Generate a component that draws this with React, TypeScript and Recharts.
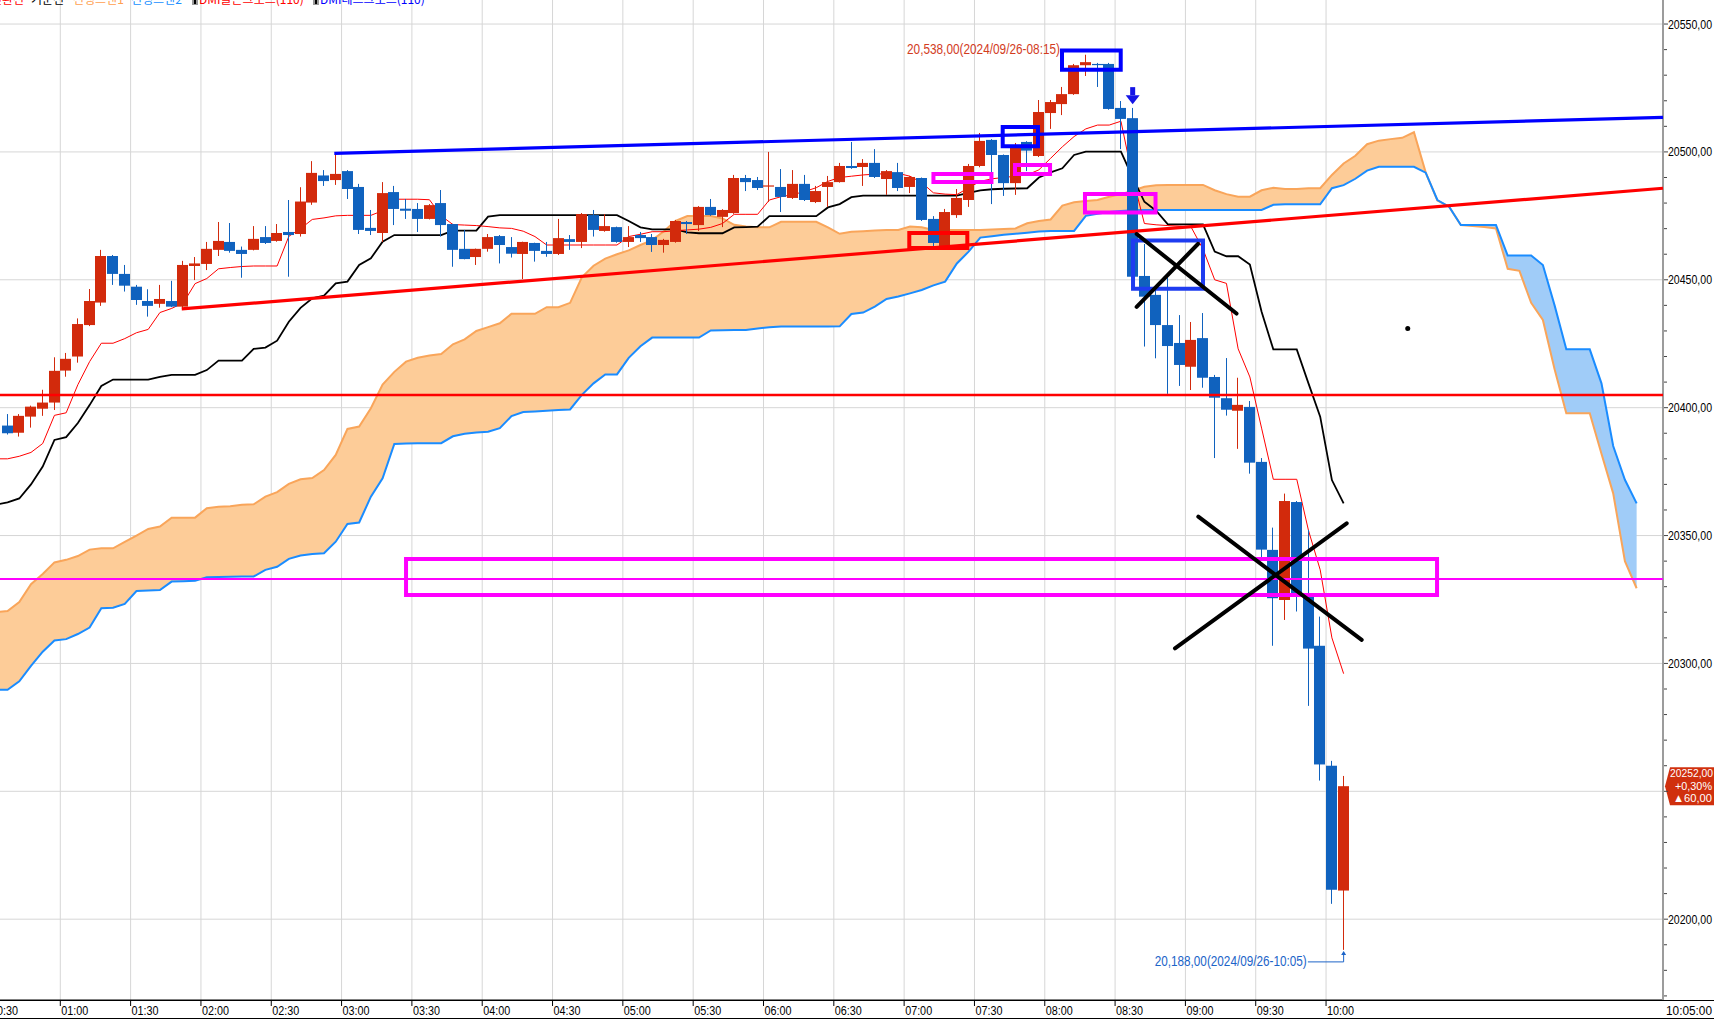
import React from 'react';
import {
  ComposedChart, Bar, Line, Area, XAxis, YAxis, CartesianGrid,
  ReferenceLine, ReferenceArea, ReferenceDot,
} from 'recharts';

const WIDTH = 1714;
const HEIGHT = 1020;
const NUM_FONT = "'Liberation Sans', Arial, sans-serif";
const KR_FONT = "'Noto Sans CJK KR', 'Noto Sans', sans-serif";
const RED = '#d22a0c';
const BLUE = '#1062be';

// time "HH:MM" -> 5-minute bar index
const toIdx = (t: string) => { const [h, m] = t.split(':').map(Number); return (h * 60 + m) / 5; };

// ---------------- data ----------------
const candleStart = '00:35';
const opens = [
  20393, 20390.2, 20396.5, 20399.6, 20402, 20414.5, 20420, 20432.3, 20441.1, 20459.3,
  20452.3, 20447.3, 20441.7, 20440.6, 20441.7, 20439.5, 20455.4, 20456.2, 20461.7, 20464.8,
  20461.7, 20461.7, 20466.7, 20465.2, 20468.7, 20467.9, 20480.2, 20490.8, 20489, 20492.5,
  20486.3, 20470.3, 20468.3, 20484.3, 20477.8, 20477.7, 20473.8, 20480, 20471.8, 20462.1,
  20458.9, 20462.1, 20467.1, 20462.8, 20460.1, 20464.4, 20461.3, 20460.1, 20465.9, 20464.8,
  20475.3, 20469.1, 20470.6, 20464.8, 20467.5, 20466.7, 20463.6, 20464.8, 20472.6, 20471.4,
  20478.5, 20474.6, 20476.1, 20489.8, 20489, 20486.6, 20486.3, 20482, 20487.5, 20480.4,
  20486.3, 20488.2, 20494.5, 20494.1, 20495.7, 20489.4, 20492.1, 20486.3, 20489.8, 20473.8,
  20463.2, 20475.3, 20481.2, 20494.5, 20504.7, 20498.8, 20487.8, 20503.9, 20498.4, 20515.2,
  20518.7, 20522.6, 20533.9, 20534.4, 20534.4, 20517.2, 20513.2, 20451.5, 20444.1, 20432.3,
  20425.3, 20416, 20427.2, 20412, 20403.7, 20398.8, 20400.3, 20378.8, 20344.4, 20324.8,
  20363.1, 20326.1, 20306.9, 20260, 20211.2,
];
const highs = [
  20397.5, 20397.5, 20400.8, 20407, 20419.7, 20421.4, 20434.9, 20446.4, 20461.7, 20459.7,
  20455.8, 20448, 20446.3, 20448, 20449.6, 20457.4, 20458.9, 20464.8, 20472.6, 20472.2,
  20463, 20471, 20471, 20471.8, 20481.2, 20486.2, 20496.4, 20492.9, 20499.4, 20492.9,
  20487.5, 20477.3, 20488.2, 20486.7, 20481.6, 20480, 20479.6, 20485.1, 20471.9, 20469.5,
  20462.2, 20467.9, 20467.5, 20466.7, 20464.9, 20464.5, 20464.8, 20473.8, 20467.5, 20476.1,
  20477.3, 20475.7, 20470.8, 20471, 20468.7, 20467.9, 20466, 20473.4, 20473, 20478.8,
  20481.6, 20477.6, 20491, 20491, 20490.2, 20500, 20493.3, 20492.9, 20491, 20486.7,
  20490.6, 20495.7, 20503.9, 20497.2, 20501.1, 20492.9, 20495.7, 20490.6, 20490, 20474.9,
  20477.7, 20485.5, 20495.3, 20507.4, 20505, 20499, 20503.5, 20504.2, 20520.3, 20520.3,
  20525.4, 20534.4, 20538, 20534.8, 20534.8, 20519.9, 20517.2, 20464, 20446, 20451,
  20436.2, 20433.5, 20437, 20412.8, 20419.4, 20411.7, 20402.6, 20380.3, 20353.1, 20366.4,
  20363.5, 20352.2, 20318.3, 20261.9, 20256,
];
const lows = [
  20389.5, 20388.7, 20392.2, 20396.8, 20399.1, 20412.1, 20417.6, 20431.9, 20439.8, 20448,
  20445.4, 20440.2, 20435.6, 20439.1, 20439.3, 20438.6, 20449.9, 20453.8, 20459.3, 20460.6,
  20450.8, 20461.5, 20464, 20464.9, 20451.2, 20466.9, 20479.3, 20486.7, 20487.1, 20481.6,
  20467.9, 20467.5, 20464.8, 20471.4, 20473.8, 20468.7, 20473.6, 20466.9, 20455.1, 20458,
  20455.8, 20461, 20456.4, 20458.7, 20450.3, 20457.1, 20459, 20459.7, 20461.7, 20462.4,
  20466.9, 20468.8, 20464.5, 20462.8, 20464.8, 20460.9, 20460.6, 20464.5, 20467.9, 20469.1,
  20475, 20470.6, 20475.8, 20484.7, 20485.1, 20480.4, 20476.5, 20481.6, 20480.8, 20480,
  20478.5, 20488, 20493.4, 20486.7, 20489.8, 20483.2, 20484.7, 20483.9, 20473, 20463.2,
  20463, 20474.2, 20478.5, 20494, 20479.6, 20482.8, 20483.2, 20492.5, 20498, 20509,
  20514.4, 20522.3, 20529.7, 20525.4, 20516.5, 20501.1, 20450, 20423.9, 20419.3, 20405.4,
  20408.5, 20406.9, 20407.8, 20380.3, 20396.9, 20383.9, 20374.2, 20341, 20306.9, 20317,
  20320.3, 20283.4, 20254.2, 20206, 20188,
];
const closes = [
  20390, 20396.8, 20400.4, 20402, 20414.4, 20419.1, 20432.7, 20441.7, 20459.3, 20452.3,
  20447.7, 20442.1, 20439.8, 20442.5, 20439.5, 20455.8, 20456.4, 20462.1, 20465.2, 20461.3,
  20460.1, 20466, 20464.4, 20468.3, 20467.5, 20480.6, 20491.8, 20488.6, 20491.4, 20485.5,
  20469.5, 20469.1, 20483.9, 20477.7, 20477, 20473.8, 20479.2, 20471.4, 20461.7, 20458.1,
  20462.1, 20466.7, 20463.6, 20460.2, 20464.8, 20461.3, 20460.1, 20466.3, 20464.8, 20475.7,
  20469.5, 20471, 20464.8, 20466.7, 20466.3, 20463.6, 20465.6, 20473, 20471.8, 20478.5,
  20475.3, 20477.3, 20489.8, 20488.2, 20485.9, 20486.9, 20482.4, 20487.5, 20481.2, 20484.7,
  20488.2, 20494.5, 20493.7, 20495.7, 20490.2, 20492.5, 20485.9, 20490.2, 20473.4, 20464.4,
  20476.5, 20482, 20494.5, 20504.3, 20498.8, 20487.8, 20501.9, 20500.5, 20515.6, 20519.5,
  20522.6, 20533.9, 20535.1, 20534, 20516.8, 20512.9, 20451.2, 20443.4, 20432.3, 20424.1,
  20416.7, 20426.5, 20411.7, 20403.9, 20399.2, 20401.1, 20378.5, 20344.5, 20325.5, 20363.5,
  20326.1, 20305.8, 20260.5, 20211.5, 20252,
];

const lineStart = '00:30';
// 전환선
const tenkan = [
  20380, 20380, 20381, 20382.5, 20386, 20397, 20398, 20409, 20418, 20425.2,
  20425.2, 20427, 20429.3, 20430.6, 20437.2, 20438.8, 20441, 20448.5, 20450.5, 20454.3,
  20454.8, 20455.2, 20455.4, 20455.4, 20455.4, 20467, 20470, 20473.6, 20474.2, 20475,
  20475.2, 20475.2, 20475.2, 20477, 20481.5, 20481.5, 20481.5, 20481.3, 20475, 20471.6,
  20471.4, 20471.2, 20470.8, 20470.3, 20470.1, 20469, 20466.9, 20463.6, 20463.6, 20463.6,
  20463.6, 20463.6, 20463.6, 20463.6, 20466.9, 20467.8, 20468.8, 20468.8, 20469.2, 20469.5,
  20469.8, 20470.5, 20472, 20475.6, 20475.6, 20475.6, 20481.2, 20482.5, 20483.3, 20484.5,
  20486, 20488.5, 20490, 20490.5, 20491, 20491.3, 20491.5, 20491.6, 20490.5, 20488,
  20484, 20483.5, 20483.3, 20486, 20488.5, 20489.5, 20490, 20490.5, 20491, 20493,
  20497.5, 20502, 20506, 20509, 20510.5, 20510.5, 20512, 20490, 20472, 20471.5,
  20471.2, 20471, 20470.5, 20462, 20450, 20448.6, 20423, 20412, 20392, 20372,
  20372, 20372, 20352, 20336.6, 20310, 20296,
];
// 기준선
const kijun = [
  20362, 20363, 20364.5, 20370, 20377, 20387.4, 20388.5, 20394, 20401, 20408.5,
  20411, 20411, 20411, 20411, 20412, 20412.8, 20412.8, 20412.8, 20414.7, 20418.4,
  20418.4, 20418.4, 20423, 20423.5, 20426.2, 20433.6, 20439, 20442.8, 20443.8, 20448.6,
  20449.3, 20455.8, 20458.4, 20464.9, 20467.5, 20467.5, 20467.5, 20467.5, 20467.5, 20469.2,
  20469.2, 20469.2, 20474.7, 20475.3, 20475.3, 20475.3, 20475.3, 20475.3, 20475.3, 20475.3,
  20475.3, 20475.3, 20475.3, 20475.3, 20473, 20470.5, 20469.7, 20469.7, 20469.7, 20468.5,
  20468.2, 20468.2, 20468.2, 20470.5, 20470.6, 20470.8, 20474.9, 20474.9, 20474.9, 20474.9,
  20474.9, 20478.3, 20479.6, 20482.3, 20482.9, 20482.9, 20482.9, 20482.9, 20482.9, 20482.9,
  20482.9, 20482.9, 20482.9, 20484, 20485, 20485.4, 20485.6, 20485.7, 20485.8, 20490,
  20492, 20493.6, 20498.8, 20500.1, 20500.1, 20500.1, 20500.1, 20490, 20480.5, 20477,
  20471.7, 20471.7, 20471.7, 20471.7, 20461, 20459.2, 20459.2, 20456, 20437.5, 20422.8,
  20422.8, 20422.8, 20409.5, 20396.5, 20371.7, 20362.6,
];

const spanStart = '00:30';
// 선행스팬1
const spanA = [
  20320, 20320.5, 20324, 20331, 20335, 20339.5, 20340.5, 20342, 20344.5, 20345,
  20345, 20347.5, 20350, 20352.6, 20353.5, 20357, 20357, 20357, 20360.7, 20361.3,
  20361.5, 20362, 20362.2, 20365.2, 20367, 20370.2, 20372, 20372.5, 20375.6, 20381.5,
  20391.7, 20392.6, 20399.8, 20409, 20414, 20418, 20419.5, 20420.4, 20421, 20424.8,
  20426.7, 20430, 20431.5, 20433, 20436.7, 20436.7, 20436.7, 20439.3, 20439.3, 20441,
  20451, 20455.5, 20458.3, 20460, 20461.5, 20463.6, 20465.5, 20469, 20473, 20474.9,
  20474.9, 20474.9, 20474, 20471.5, 20470.8, 20470.5, 20470.5, 20472.7, 20472.7, 20472.7,
  20472.7, 20470.5, 20468, 20468.8, 20469, 20469.3, 20469.5, 20469.5, 20470.8, 20470.5,
  20469.5, 20469.5, 20469.5, 20469.5, 20469.5, 20469.7, 20469.9, 20470.1, 20472.1, 20473,
  20473.6, 20479, 20480.3, 20480.8, 20481.2, 20482.5, 20483.5, 20484.8, 20486.4, 20487,
  20487.1, 20487.1, 20487.1, 20487.1, 20485, 20483.5, 20482.5, 20482.5, 20485, 20486,
  20485.5, 20485.5, 20485.8, 20485.8, 20491, 20495.5, 20498.5, 20503, 20504.4, 20505,
  20505.5, 20507.7, 20492, 20481, 20478.6, 20471.4, 20471, 20470.6, 20470.1, 20454.3,
  20453.5, 20441, 20434.3, 20415, 20397.8, 20397.8, 20397.8, 20382, 20366.5, 20340, 20329.4,
];
// 선행스팬2
const spanB = [
  20289.7, 20289.7, 20293, 20299, 20304.6, 20309, 20309.5, 20311.5, 20314, 20321.6,
  20321.8, 20323.3, 20328.3, 20328.5, 20328.7, 20332, 20332.1, 20332.3, 20333.7, 20333.8,
  20333.9, 20334, 20334, 20336.6, 20337.8, 20340.9, 20342.2, 20342.8, 20343.1, 20347.6,
  20354.5, 20355.1, 20365.2, 20372.4, 20385.8, 20386, 20386.1, 20386.1, 20386.1, 20388.8,
  20389.8, 20390.3, 20390.6, 20392, 20396.7, 20398.3, 20398.5, 20398.8, 20399.1, 20399.3,
  20405, 20409.5, 20413, 20413, 20419.5, 20424, 20427.4, 20427.4, 20427.4, 20427.4,
  20427.4, 20430.2, 20430.3, 20430.4, 20430.4, 20431, 20431.4, 20431.7, 20431.7, 20431.7,
  20431.7, 20431.7, 20431.8, 20436.6, 20437.2, 20439.5, 20442.5, 20443.5, 20444.7, 20446,
  20447.8, 20449.3, 20456.4, 20461, 20466.5, 20467, 20467.6, 20468, 20468.4, 20468.9,
  20469.1, 20469.1, 20469.1, 20475, 20475.8, 20476.5, 20476.9, 20477.2, 20477.3, 20477.3,
  20477.3, 20477.3, 20477.3, 20477.3, 20477.3, 20477.3, 20477.3, 20477.3, 20477.3, 20479.3,
  20479.5, 20479.5, 20479.5, 20479.5, 20485.8, 20487, 20489.5, 20492.7, 20494.2, 20494.2,
  20494.2, 20494.2, 20491.9, 20481.2, 20478.6, 20471.4, 20471.4, 20471.4, 20471.4, 20459.5,
  20459.5, 20459.5, 20455.8, 20440, 20422.8, 20422.8, 20422.8, 20409.5, 20385, 20371.8, 20362.6,
];

const xTickLabels = [
  '00:30', '01:00', '01:30', '02:00', '02:30', '03:00', '03:30', '04:00', '04:30', '05:00',
  '05:30', '06:00', '06:30', '07:00', '07:30', '08:00', '08:30', '09:00', '09:30', '10:00',
];
const lastTimeLabel = '10:05:00';
const yLabelValues = [20200, 20250, 20300, 20350, 20400, 20450, 20500, 20550];

const legendItems = [
  { text: '전환선', color: '#ff0000', x: -9, icon: false },
  { text: '기준선', color: '#000000', x: 31, icon: false },
  { text: '선행스팬1', color: '#ffa050', x: 73, icon: false },
  { text: '선행스팬2', color: '#2090ff', x: 131, icon: false },
  { text: 'DMI골든크로스(110)', color: '#ff0000', x: 199, icon: true },
  { text: 'DMI데드크로스(110)', color: '#0000ff', x: 320, icon: true },
];

// drawn annotations (data coordinates: bar index, price)
const trendLines = [
  { x1: 34.88, y1: 20499.45, x2: 148.25, y2: 20513.5, color: '#0000ff' },
  { x1: 21.86, y1: 20438.6, x2: 148.25, y2: 20485.8, color: '#ff0000' },
];
const levelLines = [
  { y: 20405, color: '#ff0000', w: 2.5 },
  { y: 20333, color: '#ff00ff', w: 2 },
];
const boxes = [
  { x1: 41.0, x2: 128.97, y1: 20340.85, y2: 20326.8, color: '#ff00ff' },
  { x1: 83.94, x2: 88.89, y1: 20468.3, y2: 20462.4, color: '#ff0000' },
  { x1: 86.0, x2: 90.95, y1: 20491.4, y2: 20488.2, color: '#ff00ff' },
  { x1: 92.96, x2: 95.95, y1: 20494.9, y2: 20491.4, color: '#ff00ff' },
  { x1: 98.93, x2: 104.95, y1: 20483.5, y2: 20476.3, color: '#ff00ff' },
  { x1: 96.97, x2: 101.98, y1: 20539.7, y2: 20532.1, color: '#0000ff' },
  { x1: 91.91, x2: 94.92, y1: 20509.7, y2: 20502.2, color: '#0000ff' },
  { x1: 103.03, x2: 109.0, y1: 20465.4, y2: 20446.5, color: '#1e3cf0' },
];
const crossLines = [
  { x1: 103.34, y1: 20439.4, x2: 108.57, y2: 20464.0 },
  { x1: 103.34, y1: 20467.9, x2: 111.86, y2: 20436.8 },
  { x1: 108.6, y1: 20357.4, x2: 122.54, y2: 20309.2 },
  { x1: 106.61, y1: 20305.9, x2: 121.26, y2: 20354.8 },
];
const highNote = { text: '20,538,00(2024/09/26-08:15)', x: 96.8, y: 20538.4 };
const lowNote = { text: '20,188,00(2024/09/26-10:05)', x: 117.85, y: 20181.8, lineY: 20183.3, tipY: 20187.2 };
const arrowMark = { x: 103, y: 20522.2 };
const dotMark = { x: 126.47, y: 20431.0 };
const priceTag = { change: '+0,30%', diff: '▲60,00' };

// ---------------- layout ----------------
const X_MIN = 6.355;
const X_MAX = 148.25;
const Y_MIN = 20168.4;
const Y_MAX = 20559.4;

const xTicks = [...xTickLabels.map((t) => toIdx(t) - 0.5), X_MAX];
const xTickText = [...xTickLabels, lastTimeLabel];
const gridX = xTickLabels.slice(1).map((t) => toIdx(t) - 0.5);
const yTicks: number[] = [];
for (let v = 20170; v <= 20550; v += 10) yTicks.push(v);

const c0 = toIdx(candleStart);
const l0 = toIdx(lineStart);
const s0 = toIdx(spanStart);
const lastIdx = s0 + spanA.length - 1;
const rows: any[] = [];
for (let i = s0; i <= lastIdx; i++) {
  const r: any = { x: i };
  const ci = i - c0;
  if (ci >= 0 && ci < opens.length) {
    r.o = opens[ci]; r.h = highs[ci]; r.l = lows[ci]; r.c = closes[ci];
    r.range = [lows[ci], highs[ci]];
  }
  const li = i - l0;
  r.tenkan = li >= 0 && li < tenkan.length ? tenkan[li] : null;
  r.kijun = li >= 0 && li < kijun.length ? kijun[li] : null;
  const a = spanA[i - s0];
  const b = spanB[i - s0];
  r.a = a; r.b = b;
  r.cloudUp = [b, Math.max(a, b)];
  r.cloudDown = [a, Math.max(a, b)];
  rows.push(r);
}
const lastClose = closes[closes.length - 1];
const lastBar = c0 + opens.length - 1;

const fmtPrice = (v: number) => `${v},00`;

const Candle = (props: any) => {
  const { x, y, width, height, payload } = props;
  if (!payload || payload.o == null || !isFinite(height)) return null;
  const { o, h, l, c } = payload;
  const ppu = height / (h - l);
  const bx = Math.round(x);
  const cx = bx + width / 2;
  const top = y + (h - Math.max(o, c)) * ppu;
  const bot = y + (h - Math.min(o, c)) * ppu;
  const color = c >= o ? RED : BLUE;
  return (
    <g>
      <line x1={cx} x2={cx} y1={y} y2={y + height} stroke={color} strokeWidth={1} />
      <rect x={bx} y={top} width={width} height={Math.max(1.2, bot - top)} fill={color} />
    </g>
  );
};

const XTick = (props: any) => {
  const { x, y, payload } = props;
  const k = xTicks.indexOf(payload.value);
  const label = xTickText[k] ?? '';
  const isEnd = payload.value === X_MAX;
  return (
    <g>
      {!isEnd && <line x1={x} x2={x} y1={y} y2={y + 6} stroke="#000" strokeWidth={1} />}
      <text x={x + (isEnd ? 3 : 1)} y={y + 15} fontSize={12.5} fontFamily={NUM_FONT} fill="#000"
        textLength={isEnd ? 46 : 27} lengthAdjust="spacingAndGlyphs">{label}</text>
    </g>
  );
};

const YTick = (props: any) => {
  const { x, y, payload } = props;
  const v = payload.value;
  const major = yLabelValues.includes(v);
  // the current-price tag covers the label next to it
  const hidden = Math.abs(v - lastClose) < 8;
  return (
    <g>
      <line x1={x + 1} x2={x + (major ? 5 : 4)} y1={y} y2={y} stroke="#444" strokeWidth={1} />
      {major && !hidden && (
        <text x={x + 5} y={y + 4.5} fontSize={12.5} fontFamily={NUM_FONT} fill="#000"
          textLength={44} lengthAdjust="spacingAndGlyphs">{fmtPrice(v)}</text>
      )}
    </g>
  );
};

export default function App() {
  return (
    <div style={{ position: 'absolute', left: 0, top: 0, width: WIDTH, height: HEIGHT, background: '#fff', overflow: 'hidden' }}>
      <ComposedChart width={WIDTH} height={HEIGHT} data={rows} margin={{ top: 0, right: 0, bottom: 0, left: 0 }}>
        <CartesianGrid stroke="#d6d6d6" verticalValues={gridX} horizontalValues={yLabelValues} />
        <XAxis dataKey="x" type="number" domain={[X_MIN, X_MAX]} allowDataOverflow ticks={xTicks} interval={0}
          height={20} tickSize={0} tickMargin={0} tickLine={false} axisLine={{ stroke: '#000' }}
          tick={(p: any) => <XTick {...p} />} />
        <YAxis orientation="right" type="number" domain={[Y_MIN, Y_MAX]} allowDataOverflow ticks={yTicks} interval={0}
          width={51} tickSize={0} tickMargin={0} tickLine={false} axisLine={{ stroke: '#9c9c9c', strokeWidth: 2 }}
          tick={(p: any) => <YTick {...p} />} />

        <Area dataKey="cloudUp" type="linear" stroke="none" fill="#fdcc98" fillOpacity={1} dot={false} activeDot={false} isAnimationActive={false} zIndex={100} />
        <Area dataKey="cloudDown" type="linear" stroke="none" fill="#a0ccf8" fillOpacity={1} dot={false} activeDot={false} isAnimationActive={false} zIndex={100} />
        <Line dataKey="a" type="linear" stroke="#f9a55a" strokeWidth={2} dot={false} activeDot={false} isAnimationActive={false} zIndex={200} />
        <Line dataKey="b" type="linear" stroke="#1a8cff" strokeWidth={2} dot={false} activeDot={false} isAnimationActive={false} zIndex={200} />
        <Line dataKey="kijun" type="linear" stroke="#000000" strokeWidth={1.8} dot={false} activeDot={false} isAnimationActive={false} zIndex={210} />
        <Line dataKey="tenkan" type="linear" stroke="#ff0000" strokeWidth={1} dot={false} activeDot={false} isAnimationActive={false} zIndex={220} />
        <Bar dataKey="range" barSize={11} shape={(p: any) => <Candle {...p} />} isAnimationActive={false} zIndex={450} />

        {levelLines.map((l, k) => (
          <ReferenceLine key={`lv${k}`} y={l.y} stroke={l.color} strokeWidth={l.w} ifOverflow="visible" zIndex={700} />
        ))}
        {trendLines.map((t, k) => (
          <ReferenceLine key={`tl${k}`} segment={[{ x: t.x1, y: t.y1 }, { x: t.x2, y: t.y2 }]}
            stroke={t.color} strokeWidth={3.2} ifOverflow="visible" zIndex={700} />
        ))}
        {boxes.map((b, k) => (
          <ReferenceArea key={`bx${k}`} x1={b.x1} x2={b.x2} y1={b.y1} y2={b.y2}
            fill="#ffffff" fillOpacity={0} stroke={b.color} strokeWidth={4} strokeOpacity={1} ifOverflow="visible" zIndex={700} />
        ))}
        {crossLines.map((c, k) => (
          <ReferenceLine key={`cx${k}`} segment={[{ x: c.x1, y: c.y1 }, { x: c.x2, y: c.y2 }]}
            stroke="#000000" strokeWidth={4} strokeLinecap="round" ifOverflow="visible" zIndex={710} />
        ))}

        <ReferenceLine segment={[{ x: lowNote.x + 0.1, y: lowNote.lineY }, { x: lastBar, y: lowNote.lineY }]}
          stroke="#1c64c8" strokeWidth={1} ifOverflow="visible" zIndex={700} />
        <ReferenceLine segment={[{ x: lastBar, y: lowNote.lineY }, { x: lastBar, y: lowNote.tipY }]}
          stroke="#1c64c8" strokeWidth={1} ifOverflow="visible" zIndex={700} />
        <ReferenceDot x={lastBar} y={lowNote.tipY} r={1} ifOverflow="visible" zIndex={700}
          shape={(p: any) => <polygon points={`${p.cx - 2.5},${p.cy + 3} ${p.cx + 2.5},${p.cy + 3} ${p.cx},${p.cy - 1}`} fill="#1c64c8" />} />
        <ReferenceDot x={lowNote.x} y={lowNote.y} r={1} ifOverflow="visible" zIndex={700}
          shape={(p: any) => (
            <text x={p.cx} y={p.cy} textAnchor="end" fontSize={14} fontFamily={NUM_FONT} fill="#1c64c8"
              textLength={152} lengthAdjust="spacingAndGlyphs">{lowNote.text}</text>
          )} />
        <ReferenceDot x={highNote.x} y={highNote.y} r={1} ifOverflow="visible" zIndex={700}
          shape={(p: any) => (
            <text x={p.cx} y={p.cy} textAnchor="end" fontSize={14} fontFamily={NUM_FONT} fill="#d23c1e"
              textLength={153} lengthAdjust="spacingAndGlyphs">{highNote.text}</text>
          )} />
        <ReferenceDot x={arrowMark.x} y={arrowMark.y} r={1} ifOverflow="visible" zIndex={700}
          shape={(p: any) => (
            <g fill="#1414e6">
              <rect x={p.cx - 2.5} y={p.cy - 8} width={5} height={8} />
              <polygon points={`${p.cx - 7},${p.cy} ${p.cx + 7},${p.cy} ${p.cx},${p.cy + 9}`} />
            </g>
          )} />
        <ReferenceDot x={dotMark.x} y={dotMark.y} r={2.5} fill="#000" stroke="none" ifOverflow="visible" zIndex={700} />
        <ReferenceDot x={X_MAX} y={lastClose} r={1} ifOverflow="visible" zIndex={800}
          shape={(p: any) => (
            <g>
              <polygon points={`${p.cx + 2},${p.cy} ${p.cx + 7},${p.cy - 19} ${p.cx + 51},${p.cy - 19} ${p.cx + 51},${p.cy + 19} ${p.cx + 7},${p.cy + 19}`} fill="#d0300e" />
              <text x={p.cx + 50} y={p.cy - 9} textAnchor="end" fontSize={11.5} fontFamily={NUM_FONT} fill="#fff" textLength={43} lengthAdjust="spacingAndGlyphs">{fmtPrice(lastClose)}</text>
              <text x={p.cx + 49} y={p.cy + 4} textAnchor="end" fontSize={11.5} fontFamily={NUM_FONT} fill="#fff" textLength={37} lengthAdjust="spacingAndGlyphs">{priceTag.change}</text>
              <text x={p.cx + 49} y={p.cy + 16} textAnchor="end" fontSize={11.5} fontFamily={NUM_FONT} fill="#fff" textLength={39} lengthAdjust="spacingAndGlyphs">{priceTag.diff}</text>
            </g>
          )} />
      </ComposedChart>

      <svg width={WIDTH} height={20} style={{ position: 'absolute', left: 0, top: 0, pointerEvents: 'none' }}>
        {legendItems.map((it, k) => (
          <g key={k}>
            {it.icon && (
              <g>
                <rect x={it.x - 7} y={0} width={6} height={5} fill="#9a9a9a" />
                <rect x={it.x - 5} y={0} width={2} height={4} fill="#000" />
              </g>
            )}
            <text x={it.x} y={4} fontSize={12} fontFamily={KR_FONT} fill={it.color}>{it.text}</text>
          </g>
        ))}
      </svg>
      <div style={{ position: 'absolute', left: 0, top: 1000, width: WIDTH, height: 1, background: '#000' }} />
      <div style={{ position: 'absolute', left: 0, top: 1018, width: WIDTH, height: 1, background: '#000' }} />
    </div>
  );
}
